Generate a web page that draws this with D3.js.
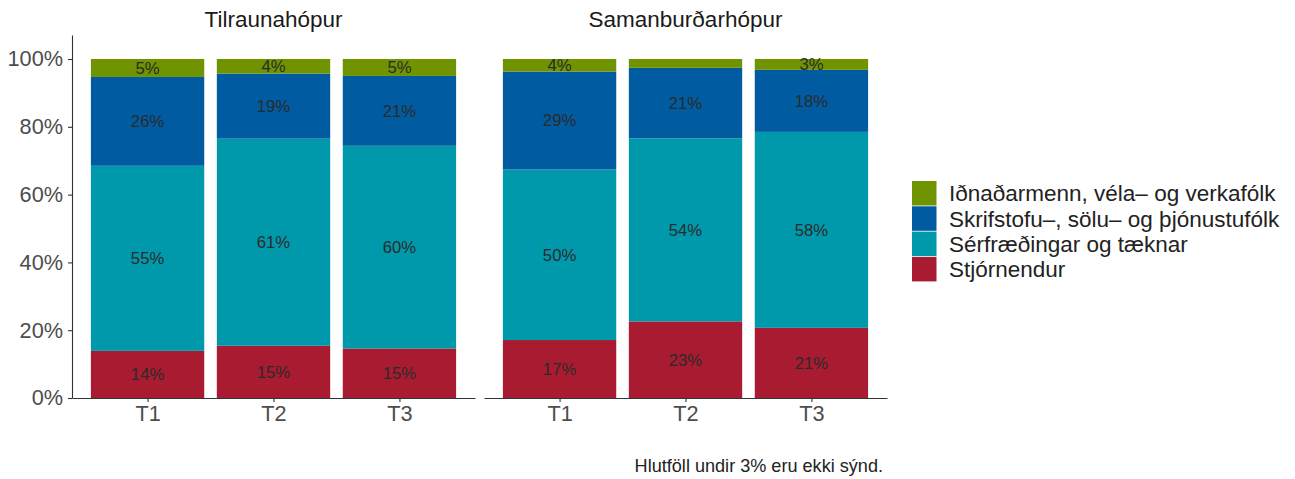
<!DOCTYPE html>
<html>
<head>
<meta charset="utf-8">
<script src="https://cdn.jsdelivr.net/npm/d3@7"></script>
<style>
  body { margin: 0; background: #fff; }
  svg { font-family: "Liberation Sans", Arial, sans-serif; display: block; }
</style>
</head>
<body>
<div id="wrapper"></div>
<script>
// data (percent), order within each series: Tilraunahópur T1..T3, Samanburðarhópur T1..T3
const groups = ["Tilraunahópur", "Samanburðarhópur"];
const times = ["T1", "T2", "T3"];
const categories = [
  "Stjórnendur",
  "Sérfræðingar og tæknar",
  "Skrifstofu–, sölu– og þjónustufólk",
  "Iðnaðarmenn, véla– og verkafólk",
];
const stjornendur = [13.9, 15.4, 14.6, 17.1, 22.6, 20.7];
const serfraedingar = [54.6, 61.1, 59.8, 50.3, 54.0, 57.8];
const skrifstofa = [26.2, 19.2, 20.6, 28.9, 20.8, 18.3];
const idnadarmenn = [5.3, 4.3, 5.0, 3.7, 2.6, 3.2];
const yTicks = [0, 20, 40, 60, 80, 100];
const caption = "Hlutföll undir 3% eru ekki sýnd.";

const colors = ["#a91b30", "#0098ab", "#005ba1", "#709300"];
const series = [stjornendur, serfraedingar, skrifstofa, idnadarmenn];

const width = 1295, height = 479;
const panels = [
  { x0: 72, x1: 475 },
  { x0: 484, x1: 887 },
];
const yTop = 35, yBottom = 398;

const svg = d3.select("#wrapper").append("svg")
  .attr("width", width).attr("height", height);

const yScale = d3.scaleLinear().domain([0, 107.08]).range([yBottom, yTop]);

// y axis
const yAxis = svg.append("g")
  .attr("transform", `translate(${panels[0].x0},0)`)
  .call(d3.axisLeft(yScale).tickValues(yTicks).tickFormat(d => d + "%")
    .tickSizeInner(4).tickSizeOuter(0).tickPadding(5));
yAxis.select(".domain").attr("stroke", "#333").attr("stroke-width", 1.1);
yAxis.selectAll(".tick line").attr("stroke", "#333").attr("stroke-width", 1.1);
yAxis.selectAll(".tick text").attr("font-size", 21.7).attr("fill", "#4d4d4d")
  .attr("font-family", "Liberation Sans, Arial, sans-serif");

groups.forEach((g, gi) => {
  const p = panels[gi];
  const xScale = d3.scalePoint().domain(times).range([p.x0, p.x1]).padding(0.6);
  const bw = xScale.step() * 0.9;

  // stacked bars
  times.forEach((t, ti) => {
    const idx = gi * 3 + ti;
    let cum = 0;
    series.forEach((s, si) => {
      const v = s[idx];
      const y0 = cum, y1 = cum + v;
      cum = y1;
      svg.append("rect")
        .attr("x", xScale(t) - bw / 2)
        .attr("width", bw)
        .attr("y", yScale(y1))
        .attr("height", yScale(y0) - yScale(y1))
        .attr("fill", colors[si]);
      if (v >= 3) {
        svg.append("text")
          .attr("x", xScale(t))
          .attr("y", yScale((y0 + y1) / 2))
          .attr("dy", "0.35em")
          .attr("text-anchor", "middle")
          .attr("font-size", 16.7)
          .attr("fill", "#2b2b2b")
          .text(Math.round(v) + "%");
      }
    });
  });

  // x axis
  const xAxis = svg.append("g")
    .attr("transform", `translate(0,${yBottom})`)
    .call(d3.axisBottom(xScale).tickSizeInner(4).tickSizeOuter(0).tickPadding(4));
  xAxis.select(".domain").attr("stroke", "#333").attr("stroke-width", 1.1);
  xAxis.selectAll(".tick line").attr("stroke", "#333").attr("stroke-width", 1.1);
  xAxis.selectAll(".tick text").attr("font-size", 21.7).attr("fill", "#4d4d4d")
    .attr("font-family", "Liberation Sans, Arial, sans-serif");

  // facet title
  svg.append("text")
    .attr("x", (p.x0 + p.x1) / 2)
    .attr("y", 27)
    .attr("text-anchor", "middle")
    .attr("font-size", 22.5)
    .attr("fill", "#1a1a1a")
    .text(g);
});

// legend
const legend = svg.append("g").attr("transform", "translate(912,181)");
const legendOrder = [3, 2, 1, 0];
legendOrder.forEach((si, i) => {
  const row = legend.append("g").attr("transform", `translate(0,${i * 25.3})`);
  row.append("rect").attr("width", 24.5).attr("height", 24.5).attr("fill", colors[si]);
  row.append("text")
    .attr("x", 37).attr("y", 12.5).attr("dy", "0.35em")
    .attr("font-size", 22.5).attr("fill", "#222")
    .text(categories[si]);
});

// caption
svg.append("text")
  .attr("x", 883).attr("y", 472)
  .attr("text-anchor", "end")
  .attr("font-size", 18.1).attr("fill", "#222")
  .text(caption);
</script>
</body>
</html>
